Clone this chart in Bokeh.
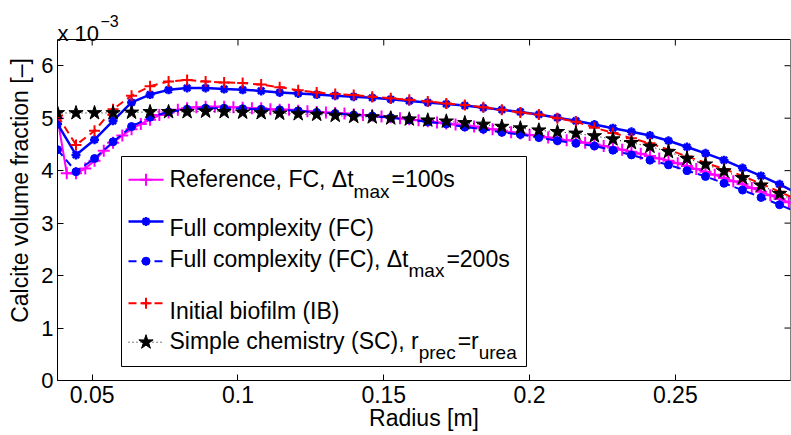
from bokeh.plotting import figure
from bokeh.models import FixedTicker, Range1d
from bokeh.embed import file_html
from bokeh.resources import INLINE
from bokeh.core.properties import value

# ---------------- data (calcite volume fraction in units of 1e-3) ----------------
radius = [0.03810, 0.04445, 0.05080, 0.05715, 0.06350, 0.06985, 0.07620, 0.08255,
          0.08890, 0.09525, 0.10160, 0.10795, 0.11430, 0.12065, 0.12700, 0.13335,
          0.13970, 0.14605, 0.15240, 0.15875, 0.16510, 0.17145, 0.17780, 0.18415,
          0.19050, 0.19685, 0.20320, 0.20955, 0.21590, 0.22225, 0.22860, 0.23495,
          0.24130, 0.24765, 0.25400, 0.26035, 0.26670, 0.27305, 0.27940, 0.28575,
          0.29210]

radius_fine = [0.038100, 0.041275, 0.044450, 0.047625, 0.050800, 0.053975, 0.057150,
               0.060325, 0.063500, 0.066675, 0.069850, 0.073025, 0.076200, 0.079375,
               0.082550, 0.085725, 0.088900, 0.092075, 0.095250, 0.098425, 0.101600,
               0.104775, 0.107950, 0.111125, 0.114300, 0.117475, 0.120650, 0.123825,
               0.127000, 0.130175, 0.133350, 0.136525, 0.139700, 0.142875, 0.146050,
               0.149225, 0.152400, 0.155575, 0.158750, 0.161925, 0.165100, 0.168275,
               0.171450, 0.174625, 0.177800, 0.180975, 0.184150, 0.187325, 0.190500,
               0.193675, 0.196850, 0.200025, 0.203200, 0.206375, 0.209550, 0.212725,
               0.215900, 0.219075, 0.222250, 0.225425, 0.228600, 0.231775, 0.234950,
               0.238125, 0.241300, 0.244475, 0.247650, 0.250825, 0.254000, 0.257175,
               0.260350, 0.263525, 0.266700, 0.269875, 0.273050, 0.276225, 0.279400,
               0.282575, 0.285750, 0.288925, 0.292100]

ref_fc_100 = [5.00, 3.95, 3.95, 4.04, 4.19, 4.38, 4.53, 4.67, 4.79, 4.89,
              4.97, 5.06, 5.11, 5.16, 5.19, 5.21, 5.22, 5.22, 5.22, 5.21,
              5.20, 5.19, 5.19, 5.17, 5.16, 5.16, 5.14, 5.13, 5.12, 5.11,
              5.10, 5.09, 5.07, 5.06, 5.05, 5.03, 5.02, 5.00, 4.98, 4.96,
              4.94, 4.92, 4.90, 4.88, 4.86, 4.84, 4.81, 4.79, 4.76, 4.73,
              4.71, 4.68, 4.66, 4.63, 4.60, 4.58, 4.57, 4.53, 4.50, 4.47,
              4.44, 4.40, 4.36, 4.32, 4.28, 4.23, 4.19, 4.14, 4.09, 4.03,
              3.98, 3.92, 3.86, 3.80, 3.74, 3.67, 3.60, 3.53, 3.46, 3.40,
              3.32]

fc = [4.89, 4.30, 4.59, 4.95, 5.30, 5.45, 5.54, 5.575, 5.575, 5.555,
      5.54, 5.52, 5.49, 5.47, 5.45, 5.43, 5.41, 5.39, 5.36, 5.33,
      5.30, 5.27, 5.24, 5.20, 5.16, 5.12, 5.07, 5.01, 4.95, 4.88,
      4.81, 4.74, 4.67, 4.57, 4.45, 4.33, 4.20, 4.05, 3.90, 3.74,
      3.56]

fc_200 = [4.40, 3.98, 4.23, 4.55, 4.84, 5.02, 5.12, 5.17, 5.19, 5.19,
          5.18, 5.17, 5.16, 5.14, 5.11, 5.09, 5.06, 5.04, 5.01, 4.97,
          4.93, 4.89, 4.83, 4.79, 4.73, 4.69, 4.63, 4.57, 4.52, 4.47,
          4.39, 4.30, 4.20, 4.11, 4.00, 3.89, 3.76, 3.63, 3.49, 3.35,
          3.20]

ib = [5.05, 4.49, 4.76, 5.17, 5.43, 5.61, 5.70, 5.73, 5.70, 5.68,
      5.67, 5.64, 5.59, 5.535, 5.49, 5.46, 5.44, 5.41, 5.38, 5.35,
      5.32, 5.28, 5.25, 5.21, 5.16, 5.11, 5.07, 5.00, 4.93, 4.82,
      4.72, 4.62, 4.52, 4.40, 4.27, 4.15, 4.03, 3.90, 3.75, 3.60,
      3.44]

sc = [5.10, 5.10, 5.10, 5.10, 5.11, 5.12, 5.12, 5.12, 5.13, 5.12,
      5.11, 5.10, 5.09, 5.08, 5.07, 5.05, 5.03, 5.02, 5.00, 4.98,
      4.96, 4.94, 4.91, 4.88, 4.84, 4.81, 4.77, 4.74, 4.71, 4.66,
      4.60, 4.53, 4.46, 4.36, 4.23, 4.12, 3.99, 3.86, 3.72, 3.56,
      3.40]

x_ticks = [0.05, 0.1, 0.15, 0.2, 0.25]
x_tick_labels = ["0.05", "0.1", "0.15", "0.2", "0.25"]
y_ticks = [0, 1, 2, 3, 4, 5, 6]
y_tick_labels = ["0", "1", "2", "3", "4", "5", "6"]

# ---------------- layout ----------------
FONT = "Liberation Sans"
W_FIG, H_FIG = 791, 435
FL, FR, FT, FB = 57, 790, 39, 380      # axes box edges in canvas pixels
X0, X1 = 0.0381, 0.2895                # x limits of the axes box
Y0, Y1 = 0.0, 6.5                      # y limits of the axes box
sx = (FR - FL) / (X1 - X0)
sy = (FB - FT) / (Y1 - Y0)
Y_TOP = Y1 + FT / sy                   # frame extends to the canvas top (room for "x 10^-3")

p = figure(width=W_FIG, height=H_FIG, x_range=Range1d(X0, X1), y_range=Range1d(Y0, Y_TOP),
           output_backend="svg", toolbar_location=None,
           min_border_left=FL, min_border_right=W_FIG - FR,
           min_border_top=0, min_border_bottom=H_FIG - FB)
p.background_fill_color = "white"
p.border_fill_color = "white"
p.outline_line_color = None
p.xgrid.visible = False
p.ygrid.visible = False


def px2x(px):
    return X0 + (px - FL) / sx


def py2y(py):
    return Y0 + (FB - py) / sy


for ax in (p.xaxis[0], p.yaxis[0]):
    ax.axis_line_color = "black"
    ax.axis_line_width = 1
    ax.major_tick_in = 6
    ax.major_tick_out = 0
    ax.minor_tick_line_color = None
    ax.major_tick_line_color = "black"
    ax.major_label_text_font = FONT
    ax.major_label_text_color = "black"
    ax.axis_label_text_font = FONT
    ax.axis_label_text_font_style = "normal"
    ax.axis_label_text_color = "black"
    ax.axis_label_text_font_size = "23px"

p.xaxis[0].ticker = FixedTicker(ticks=x_ticks)
p.xaxis[0].major_label_overrides = dict(zip(x_ticks, x_tick_labels))
p.xaxis[0].major_label_text_font_size = "23px"
p.xaxis[0].major_label_standoff = 5
p.xaxis[0].axis_label = "Radius [m]"
p.xaxis[0].axis_label_standoff = -1

p.yaxis[0].ticker = FixedTicker(ticks=y_ticks)
p.yaxis[0].major_label_overrides = dict(zip(y_ticks, y_tick_labels))
p.yaxis[0].major_label_text_font_size = "22px"
p.yaxis[0].major_label_standoff = 4
p.yaxis[0].axis_label = "Calcite volume fraction [\u2013]"
p.yaxis[0].axis_label_standoff = 5
p.yaxis[0].bounds = (Y0, Y1)

# axes box (top and right sides) with inward ticks
p.quad(left=[X0], right=[X1], bottom=[Y0], top=[Y1], fill_color=None,
       line_color="black", line_width=1)
tick_dy = 6 / sy
tick_dx = 6 / sx
p.segment(x0=x_ticks, y0=[Y1] * len(x_ticks), x1=x_ticks, y1=[Y1 - tick_dy] * len(x_ticks),
          line_color="black", line_width=1)
p.segment(x0=[X1] * len(y_ticks), y0=y_ticks, x1=[X1 - tick_dx] * len(y_ticks), y1=y_ticks,
          line_color="black", line_width=1)

# ---------------- series ----------------
MAG, BLUE, RED = "#ff00ff", "#0000ff", "#ff0000"
p.line(radius_fine, ref_fc_100, line_color=MAG, line_width=2)
p.scatter(radius_fine, ref_fc_100, marker="cross", size=12, line_color=MAG, line_width=2)

p.line(radius, fc, line_color=BLUE, line_width=2.5)
p.scatter(radius, fc, marker="asterisk", size=9, line_color=BLUE, line_width=2.5)

p.line(radius, fc_200, line_color=BLUE, line_width=2, line_dash="8 5")
p.scatter(radius, fc_200, marker="circle", size=8, line_color=BLUE, fill_color=BLUE)

p.line(radius, ib, line_color=RED, line_width=2, line_dash="8 5")
p.scatter(radius, ib, marker="cross", size=11, line_color=RED, line_width=2)

p.line(radius, sc, line_color="black", line_width=1, line_dash="1 3")
p.scatter(radius, sc, marker="star", size=15, line_color="black", fill_color="black")

# ---------------- multiplier "x 10^-3" ----------------
p.text([px2x(57)], [py2y(33)], text=["x 10"], text_font=value(FONT),
       text_font_size=value("22px"), text_color="black", text_baseline="alphabetic")
p.text([px2x(100)], [py2y(20)], text=["\u22123"], text_font=value(FONT),
       text_font_size=value("16px"), text_color="black", text_baseline="alphabetic")

# ---------------- legend (drawn by hand, for the subscripts) ----------------
W = {' ': 278, ',': 278, '(': 333, ')': 333, '=': 584, '.': 278,
     'C': 722, 'F': 611, 'R': 722, 'S': 667, 'I': 278, 'B': 667, '\u0394': 668,
     'a': 556, 'b': 556, 'c': 500, 'e': 556, 'f': 278, 'h': 556, 'i': 222, 'l': 222,
     'm': 833, 'n': 556, 'o': 556, 'p': 556, 'r': 333, 's': 500, 't': 278, 'u': 556,
     'x': 500, 'y': 500}
for d in "0123456789":
    W[d] = 556


def text_width(s, size):
    return sum(W.get(ch, 556) for ch in s) * size / 1000.0


p.quad(left=[px2x(121)], right=[px2x(526)], top=[py2y(156)], bottom=[py2y(366)],
       fill_color="white", line_color="black", line_width=1)

MAIN, SUB = 23, 19
entries = [
    (179.3, 178.5, [("Reference, FC, \u0394t", False), ("max", True), ("=100s", False)], "ref"),
    (221.0, 227.5, [("Full complexity (FC)", False)], "fc"),
    (260.7, 258.3, [("Full complexity (FC), \u0394t", False), ("max", True), ("=200s", False)], "fc200"),
    (302.7, 310.7, [("Initial biofilm (IB)", False)], "ib"),
    (341.7, 340.0, [("Simple chemistry (SC), r", False), ("prec", True), ("=r", False), ("urea", True)], "sc"),
]

for ly, base, pieces, style in entries:
    lx = [px2x(128), px2x(163)]
    yy = [py2y(ly), py2y(ly)]
    mx, my = [px2x(145.5)], [py2y(ly)]
    if style == "ref":
        p.line(lx, yy, line_color=MAG, line_width=2)
        p.scatter(mx, my, marker="cross", size=12, line_color=MAG, line_width=2)
    elif style == "fc":
        p.line(lx, yy, line_color=BLUE, line_width=2.5)
        p.scatter(mx, my, marker="asterisk", size=9, line_color=BLUE, line_width=2.5)
    elif style == "fc200":
        p.line(lx, yy, line_color=BLUE, line_width=2, line_dash="8 5")
        p.scatter(mx, my, marker="circle", size=8, line_color=BLUE, fill_color=BLUE)
    elif style == "ib":
        p.line(lx, yy, line_color=RED, line_width=2, line_dash="8 5")
        p.scatter(mx, my, marker="cross", size=11, line_color=RED, line_width=2)
    else:
        p.line(lx, yy, line_color="black", line_width=1, line_dash="1 3")
        p.scatter(mx, my, marker="star", size=15, line_color="black", fill_color="black")
    cx = 169.0
    for txt, is_sub in pieces:
        size = SUB if is_sub else MAIN
        by = base + 12 if is_sub else base
        p.text([px2x(cx)], [py2y(by)], text=[txt], text_font=value(FONT),
               text_font_size=value(f"{size}px"), text_color="black",
               text_baseline="alphabetic", text_align="left")
        cx += text_width(txt, size) + (2 if is_sub else 0)

open("out.html", "w").write(file_html(p, INLINE))
